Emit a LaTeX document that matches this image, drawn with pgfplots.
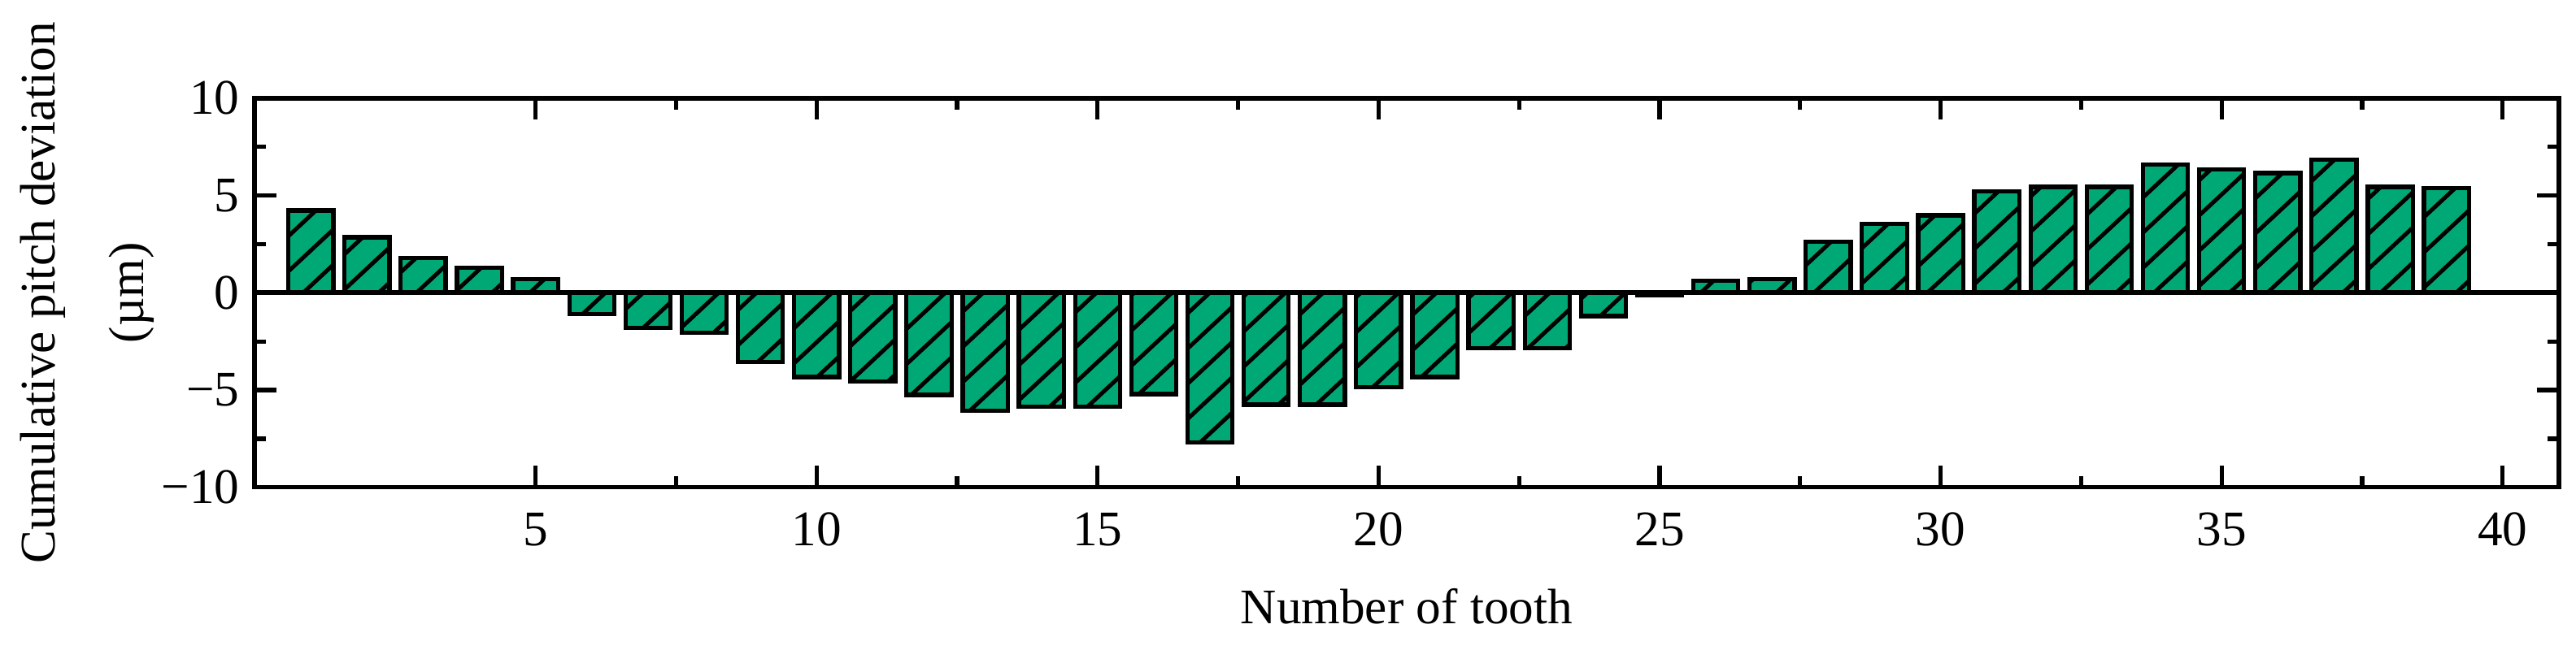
\documentclass[border=0pt]{standalone}
\usepackage{fontspec}
\setmainfont{Liberation Serif}
\usepackage{pgfplots}
\pgfplotsset{compat=1.18}
\usetikzlibrary{patterns.meta}

\definecolor{barg}{RGB}{0,168,117}

\begin{document}
\begin{tikzpicture}
\useasboundingbox (-59.3pt,-36.9pt) rectangle (540.7pt,113.6pt);
\begin{axis}[
at={(0,0)}, anchor=south west,
scale only axis,
width=536.7pt,
height=90.7pt,
xmin=0, xmax=41,
ymin=-10, ymax=10,
xtick={5,10,...,40},
ytick={-10,-5,0,5,10},
yticklabels={−10,−5,0,5,10},
minor x tick num=1,
minor y tick num=1,
tick align=inside,
major tick length=5pt,
minor tick length=2.7pt,
every tick/.style={black, line width=1pt},
axis line style={line width=1pt},
font=\fontsize{11.6}{14}\selectfont,
/pgf/number format/assume math mode=true,
ticklabel style={font=\fontsize{11.6}{14}\selectfont},
xticklabel style={yshift=-2.4pt},
xlabel={Number of tooth},
xlabel style={at={(axis description cs:0.5,-0.3506)}, anchor=base, font=\fontsize{11.6}{14}\selectfont},
ylabel={Cumulative pitch deviation\\(µm)},
ylabel style={at={(axis description cs:-0.1019,0.5)}, anchor=north, inner sep=0pt, align=center, font=\fontsize{11.6}{20.6}\selectfont},
]
% cumulative pitch deviation per tooth
\addplot[ybar, bar width=0.8, fill=barg, draw=black, line width=1pt,
  postaction={pattern={Lines[angle=43,distance=6pt,line width=0.95pt]}}]
coordinates {
(1,4.23) (2,2.85) (3,1.8) (4,1.3) (5,0.7)
(6,-1.1) (7,-1.8) (8,-2.05) (9,-3.55) (10,-4.33)
(11,-4.55) (12,-5.25) (13,-6.05) (14,-5.85) (15,-5.85)
(16,-5.2) (17,-7.7) (18,-5.75) (19,-5.75) (20,-4.85)
(21,-4.33) (22,-2.85) (23,-2.85) (24,-1.2) (25,-0.12)
(26,0.62) (27,0.7) (28,2.62) (29,3.55) (30,3.98)
(31,5.2) (32,5.45) (33,5.45) (34,6.6) (35,6.33)
(36,6.15) (37,6.83) (38,5.45) (39,5.38)
};
\addplot[black, line width=1.1pt, forget plot] coordinates {(0,0) (41,0)};
\end{axis}
\end{tikzpicture}
\end{document}
